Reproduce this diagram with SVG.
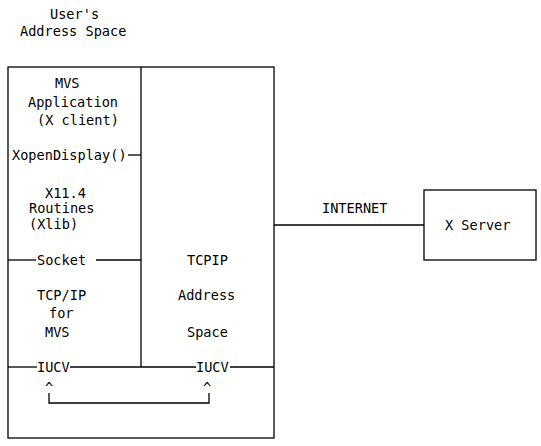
<svg xmlns="http://www.w3.org/2000/svg" width="541" height="446" viewBox="0 0 541 446">
<style>
text{font-family:"DejaVu Sans Mono","Liberation Mono",monospace;font-size:13.6px;fill:#000}
.ln{stroke:#000;stroke-width:1.3;fill:none}
</style>
<rect width="541" height="446" fill="#fff"/>
<g id="title"><text x="50" y="19">User's</text><text x="20" y="36">Address Space</text></g>
<g id="users-address-space">
<rect class="ln" x="8" y="67" width="266" height="371"/>
<line class="ln" x1="141" y1="67" x2="141" y2="367"/>
</g>
<g id="mvs-application">
<text x="55" y="88">MVS</text><text x="28" y="107">Application</text><text x="37" y="125">(X client)</text>
</g>
<g id="xopendisplay"><text x="12" y="160">XopenDisplay()</text></g>
<g id="x11-routines"><text x="45" y="198">X11.4</text><text x="29" y="213">Routines</text><text x="29" y="229">(Xlib)</text></g>
<g id="socket"><text x="37" y="265">Socket</text></g>
<g id="tcpip-for-mvs"><text x="37" y="300">TCP/IP</text><text x="49" y="318">for</text><text x="45" y="337">MVS</text></g>
<g id="tcpip-address-space"><text x="187" y="265">TCPIP</text><text x="178" y="300">Address</text><text x="187" y="337">Space</text></g>
<g id="iucv1"><text x="37" y="372">IUCV</text><text x="45" y="393">^</text></g>
<g id="iucv2"><text x="196" y="372">IUCV</text><text x="203" y="393">^</text></g>
<g id="x-server"><rect class="ln" x="424" y="190" width="112" height="70"/><text x="445" y="230">X Server</text></g>
<g id="connectors">
<line class="ln" x1="128" y1="155" x2="141" y2="155"/>
<line class="ln" x1="8" y1="260" x2="36" y2="260"/>
<line class="ln" x1="96" y1="260" x2="141" y2="260"/>
<line class="ln" x1="8" y1="367" x2="37" y2="367"/>
<line class="ln" x1="70" y1="367" x2="196" y2="367"/>
<line class="ln" x1="230" y1="367" x2="274" y2="367"/>
<polyline class="ln" points="49,393 49,403 209,403 209,393"/>
<line class="ln" x1="274" y1="225" x2="424" y2="225"/>
<text x="322" y="213">INTERNET</text>
</g>
</svg>
